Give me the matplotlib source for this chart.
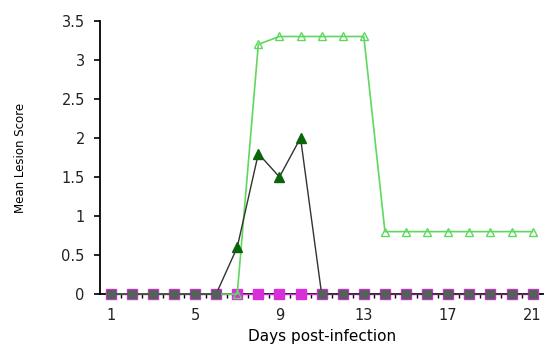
import matplotlib
matplotlib.use('Agg')
import matplotlib.pyplot as plt

plt.rcParams['font.family'] = ['DejaVu Sans']

# данные
days = list(range(1, 22))
light_green = [0, 0, 0, 0, 0, 0, 0, 3.2, 3.3, 3.3, 3.3, 3.3, 3.3,
               0.8, 0.8, 0.8, 0.8, 0.8, 0.8, 0.8, 0.8]
dark_green = [0, 0, 0, 0, 0, 0, 0.6, 1.8, 1.5, 2.0, 0, 0, 0,
              0, 0, 0, 0, 0, 0, 0, 0]
magenta = [0] * 21
x_ticks = [1, 5, 9, 13, 17, 21]
y_ticks = [0, 0.5, 1, 1.5, 2, 2.5, 3, 3.5]
y_tick_labels = ['0', '0.5', '1', '1.5', '2', '2.5', '3', '3.5']

fig = plt.figure(figsize=(5.47, 3.48), dpi=100)
ax = fig.add_axes([0.183, 0.155, 0.81, 0.785])

ax.plot(days, magenta, color='#d830d8', marker='s', markersize=6.5,
        linewidth=1, clip_on=False, zorder=3)
ax.plot(days, light_green, color='#5fd85f', marker='^', markersize=6,
        markerfacecolor='none', markeredgecolor='#5fd85f', linewidth=1.2,
        clip_on=False, zorder=4)
# на нуле вместо треугольников видны тёмные квадраты
nonzero = [i for i, v in enumerate(dark_green) if v != 0]
ax.plot(days, dark_green, color='#333333', marker='^', markersize=6.5,
        markerfacecolor='#0a640a', markeredgecolor='#0a640a', linewidth=1,
        markevery=nonzero, clip_on=False, zorder=5)
zero_days = [d for d, v in zip(days, dark_green) if v == 0]
ax.plot(zero_days, [0] * len(zero_days), linestyle='none',
        marker='s', markersize=6, markerfacecolor='#55605a',
        markeredgecolor='#55605a', clip_on=False, zorder=6)

ax.set_xlim(0.5, 21.5)
ax.set_ylim(0, 3.5)
ax.set_xticks(x_ticks)
ax.set_xticks([d + 0.5 for d in days[:-1]], minor=True)
ax.set_yticks(y_ticks)
ax.set_yticklabels(y_tick_labels)
ax.tick_params(axis='both', labelsize=10.5, labelcolor='#222222')
ax.tick_params(axis='x', which='major', length=0, pad=10)
ax.tick_params(axis='x', which='minor', direction='out', length=3, width=1)
ax.tick_params(axis='y', direction='out', length=4, width=1.2, pad=7)
for s in ['top', 'right']:
    ax.spines[s].set_visible(False)
ax.spines['left'].set_linewidth(1.3)
ax.spines['bottom'].set_linewidth(1.3)

ax.set_xlabel('Days post-infection', fontsize=11, labelpad=4)
ax.set_ylabel('Mean Lesion Score', fontsize=8.5, labelpad=25)

fig.savefig('out.png', dpi=100)
